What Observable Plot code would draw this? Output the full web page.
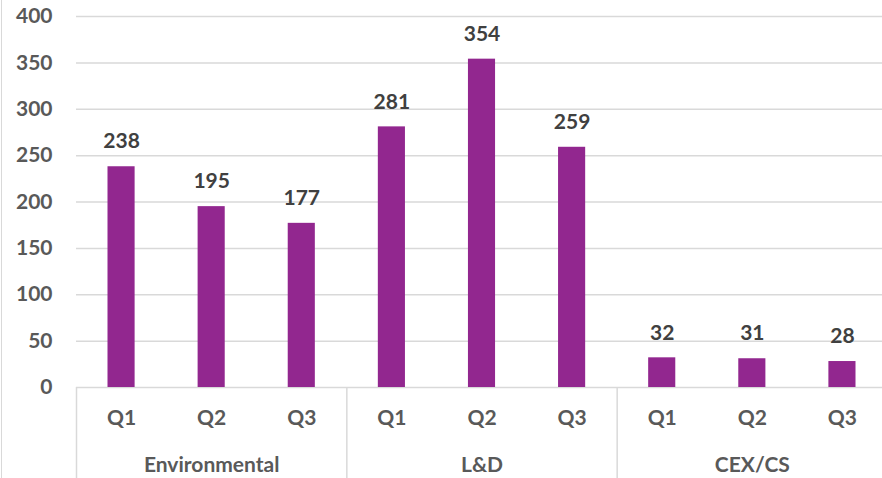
<!DOCTYPE html>
<html>
<head>
<meta charset="utf-8">
<script src="https://cdn.jsdelivr.net/npm/d3@7"></script>
<script src="https://cdn.jsdelivr.net/npm/@observablehq/plot@0.6"></script>
<style>
  html, body { margin: 0; padding: 0; background: #fff; }
  #wrap { position: relative; width: 882px; height: 478px; overflow: hidden; }
  #edge { position: absolute; left: 1px; top: 0; width: 1px; height: 478px; background: #d9d9d9; }
  svg { font-family: Lato, "Open Sans", sans-serif; overflow: hidden; }
</style>
</head>
<body>
<div id="wrap"><div id="edge"></div></div>
<script>
const groups = ["Environmental", "L&D", "CEX/CS"];
const quarters = ["Q1", "Q2", "Q3"];
const envValues = [238, 195, 177];
const ldValues = [281, 354, 259];
const cexValues = [32, 31, 28];
const yTicks = [0, 50, 100, 150, 200, 250, 300, 350, 400];

const seriesByGroup = [envValues, ldValues, cexValues];
const rows = [];
groups.forEach((g, gi) => {
  quarters.forEach((q, qi) => {
    rows.push({group: g, quarter: q, value: seriesByGroup[gi][qi], i: gi * quarters.length + qi, mid: qi === 1});
  });
});
const boundaries = groups.map((g, gi) => gi * quarters.length);
const n = rows.length;

const purple = "#92278F";
const axisGray = "#595959";
const gridGray = "#d9d9d9";

const chart = Plot.plot({
  width: 882,
  height: 478,
  marginLeft: 76,
  marginRight: -5,
  marginTop: 16,
  marginBottom: 91,
  x: {type: "linear", domain: [0, n], axis: null},
  y: {domain: [0, 400], axis: null},
  marks: [
    Plot.ruleY(yTicks, {stroke: gridGray, strokeWidth: 1.5}),
    Plot.ruleX(boundaries, {x: d => d, y1: 0, y2: 0, insetBottom: -91, stroke: gridGray, strokeWidth: 1.5}),
    Plot.rectY(rows, {x1: "i", x2: d => d.i + 1, y1: 0, y2: "value", fill: purple, insetLeft: 31.5, insetRight: 31.5}),
    Plot.text(rows, {x: d => d.i + 0.5, y: "value", text: d => String(d.value), dy: -25, fill: "#404040", fontSize: 21, fontWeight: "bold"}),
    Plot.text(rows, {x: d => d.i + 0.5, y: 0, text: "quarter", dy: 31, fill: axisGray, fontSize: 21, fontWeight: "bold"}),
    Plot.text(rows.filter(d => d.mid), {x: d => d.i + 0.5, y: 0, text: "group", dy: 78, fill: axisGray, fontSize: 21, fontWeight: "bold"}),
    Plot.axisY(yTicks, {tickSize: 0, tickPadding: 24, fill: axisGray, fontSize: 21, fontWeight: "bold", label: null})
  ]
});
document.getElementById("wrap").appendChild(chart);
</script>
</body>
</html>
